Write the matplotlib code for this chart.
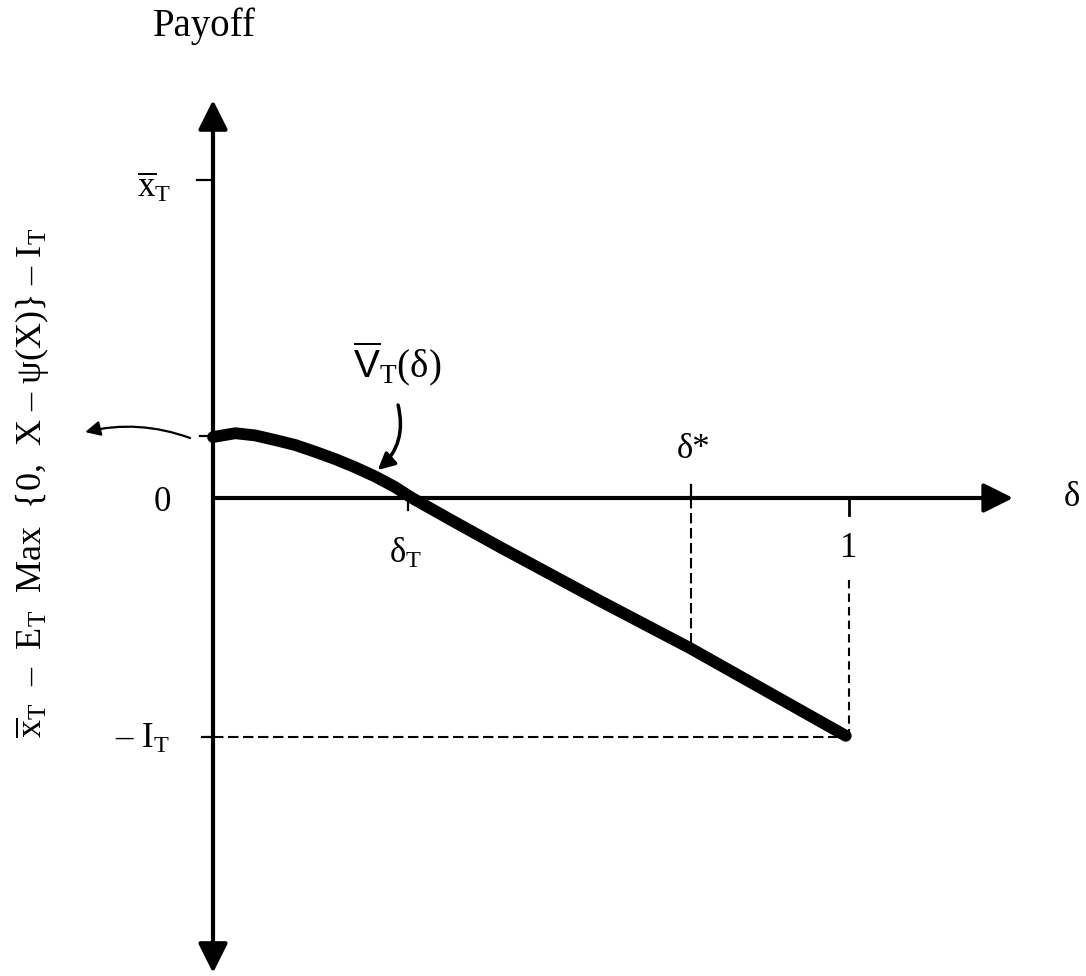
import matplotlib
matplotlib.use('Agg')
import matplotlib.pyplot as plt

plt.rcParams['mathtext.fontset'] = 'custom'
plt.rcParams['mathtext.rm'] = 'Liberation Serif'
plt.rcParams['mathtext.sf'] = 'Liberation Sans'
plt.rcParams['mathtext.it'] = 'Liberation Serif:italic'

# payoff curve V_T(delta) (delta, payoff with I_T = 1)
delta = [0.0, 0.035, 0.066, 0.097, 0.129, 0.160, 0.192, 0.223, 0.255, 0.286, 0.313,
         0.377, 0.451, 0.608, 0.750, 0.995]
payoff = [0.255, 0.271, 0.262, 0.243, 0.222, 0.194, 0.163, 0.129, 0.090, 0.046, 0.0,
          -0.096, -0.205, -0.430, -0.628, -0.995]

# key levels
xbar_T = 1.33
v0 = 0.259
minus_I = -1.0
delta_T = 0.307
delta_star = 0.751
delta_one = 1.0
v_star = -0.628

fig = plt.figure(figsize=(10.86, 9.76), dpi=100, facecolor='white')
ax = fig.add_axes([0, 0, 1, 1])
ax.set_xlim(-213 / 636, (1086 - 213) / 636)
ax.set_ylim((498 - 976) / 239, 498 / 239)
ax.axis('off')

serif = 'Liberation Serif'

# axes with arrow heads
ax.annotate('', xy=(0, 1.665), xytext=(0, -1.987),
            arrowprops=dict(arrowstyle='<|-|>,head_length=18,head_width=9', mutation_scale=1,
                            lw=3.0, color='black', shrinkA=0, shrinkB=0))
ax.annotate('', xy=(1.258, 0), xytext=(0, 0),
            arrowprops=dict(arrowstyle='-|>,head_length=18,head_width=9', mutation_scale=1,
                            lw=3.0, color='black', shrinkA=0, shrinkB=0))

# ticks
ax.plot([-0.025, 0], [xbar_T, xbar_T], color='black', lw=1.6)
ax.plot([-0.021, 0], [v0, v0], color='black', lw=1.6)
ax.plot([-0.018, 0], [minus_I, minus_I], color='black', lw=1.6)
ax.plot([delta_T, delta_T], [0, -0.05], color='black', lw=1.6)
ax.plot([delta_star, delta_star], [0, 0.055], color='black', lw=1.6)
ax.plot([delta_one, delta_one], [0, -0.071], color='black', lw=2.0)

# dashed guides
ax.plot([0, delta_one], [minus_I, minus_I], color='black', lw=1.5, ls=(0, (5, 2.2)))
ax.plot([delta_star, delta_star], [0, v_star], color='black', lw=1.5, ls=(0, (5, 2.2)))
ax.plot([delta_one, delta_one], [-0.343, minus_I], color='black', lw=1.5, ls=(0, (4, 2.5)))

# the curve
ax.plot(delta, payoff, color='black', lw=8.5, solid_capstyle='round', solid_joinstyle='round')

# labels
ax.text(-0.014, 1.975, 'Payoff', family=serif, fontsize=28, ha='center', va='center')
ax.text(-0.284, 0.063,
        r'$\overline{\mathrm{x}}_{\mathrm{T}}$  –  E$_{\mathrm{T}}$  Max  {0,  X – ψ(X)} – I$_{\mathrm{T}}$',
        family=serif, fontsize=26, rotation=90, ha='center', va='center')
ax.text(-0.093, 1.301, r'$\overline{\mathrm{x}}_{\mathrm{T}}$', fontsize=25, ha='center', va='center')
ax.text(-0.079, -0.017, '0', family=serif, fontsize=25, ha='center', va='center')
ax.text(-0.068, -1.01, r'– I$_{\mathrm{T}}$', family=serif, fontsize=25, ha='right', va='center')
ax.text(0.302, -0.234, r'δ$_{\mathrm{T}}$', family=serif, fontsize=25, ha='center', va='center')
ax.text(0.756, 0.205, 'δ*', family=serif, fontsize=25, ha='center', va='center')
ax.text(1.0, -0.213, '1', family=serif, fontsize=25, ha='center', va='center')
ax.text(1.35, 0.004, 'δ', family=serif, fontsize=25, ha='center', va='center')
ax.text(0.289, 0.561, r'$\overline{\mathsf{V}}_{\mathrm{T}}$(δ)', family=serif, fontsize=28,
        ha='center', va='center')

# pointer to the curve
ax.annotate('', xy=(0.259, 0.117), xytext=(0.291, 0.389),
            arrowprops=dict(arrowstyle='-|>,head_length=10,head_width=5', mutation_scale=1,
                            lw=2.5, color='black', shrinkA=0, shrinkB=0,
                            connectionstyle='arc3,rad=-0.3'))
# pointer to the intercept value
ax.annotate('', xy=(-0.201, 0.276), xytext=(-0.036, 0.251),
            arrowprops=dict(arrowstyle='-|>,head_length=9,head_width=4.5', mutation_scale=1,
                            lw=1.6, color='black', shrinkA=0, shrinkB=0,
                            connectionstyle='arc3,rad=0.15'))

fig.savefig('out.png', dpi=100, facecolor='white')
